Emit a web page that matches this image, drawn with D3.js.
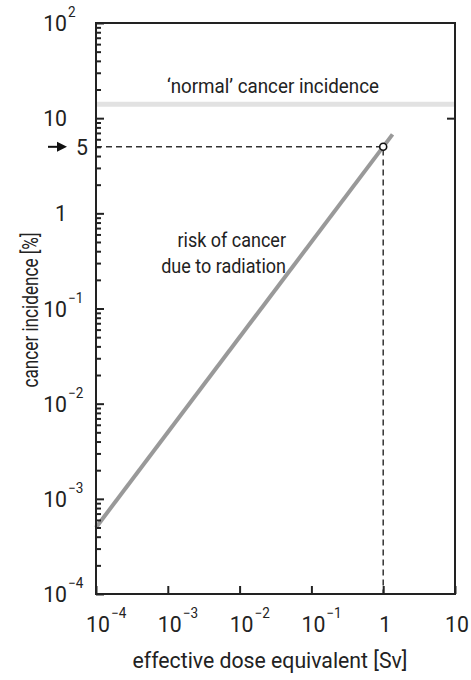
<!DOCTYPE html>
<html>
<head>
<meta charset="utf-8">
<script src="https://cdn.jsdelivr.net/npm/d3@7"></script>
<style>
  html, body { margin: 0; padding: 0; background: #fff; }
  svg text { font-family: Roboto, "Liberation Sans", sans-serif; font-weight: 400; fill: #222; }
</style>
</head>
<body>
<svg id="chart" width="471" height="680"></svg>
<script>
// ---- data ----
const xTickValues = [1e-4, 1e-3, 1e-2, 1e-1, 1, 10];
const xTickBases  = ["10", "10", "10", "10", "1", "10"];
const xTickExps   = ["−4", "−3", "−2", "−1", "", ""];
const yTickValues = [1e-4, 1e-3, 1e-2, 1e-1, 1, 10, 100];
const yTickBases  = ["10", "10", "10", "10", "1", "10", "10"];
const yTickExps   = ["−4", "−3", "−2", "−1", "", "", "2"];
const riskDose      = [1e-4, 1.35];
const riskIncidence = [5e-4, 6.75];
const normalIncidence = 14;
const markerDose = 1;
const markerIncidence = 5;
const markerLabel = "5";
const xTitle = "effective dose equivalent [Sv]";
const yTitle = "cancer incidence [%]";
const normalLabel = "‘normal’ cancer incidence";
const riskLabel = ["risk of cancer", "due to radiation"];

// ---- layout ----
const L = 96, R = 455, T = 23, B = 594;
const svg = d3.select("#chart");
const x = d3.scaleLog().domain([1e-4, 10]).range([L, R]);
const y = d3.scaleLog().domain([1e-4, 100]).range([B, T]);
const FS = 22, SUP = 14;

function measure(str, size) {
  const p = svg.append("text").attr("font-size", size).text(str);
  const w = p.node().getComputedTextLength();
  p.remove();
  return w;
}
// horizontal condensing factors (condensed face emulation)
const SX = Math.min(1, 275 / measure(xTitle, FS));

function addText(px, py, str, size, anchor, rot, sx) {
  const s = sx || SX;
  const g = svg.append("g").attr("transform", `translate(${px},${py})${rot ? ` rotate(${rot})` : ""} scale(${s},1)`);
  const t = g.append("text").attr("font-size", size).attr("text-anchor", anchor || "start").text(str);
  return t.node().getComputedTextLength() * s;
}

// minor ticks for y
const yMinor = [];
for (let e = -4; e < 2; e++) for (let m = 2; m <= 9; m++) yMinor.push(m * Math.pow(10, e));

// normal incidence band
svg.append("line")
  .attr("x1", x(1e-4)).attr("x2", x(10))
  .attr("y1", y(normalIncidence)).attr("y2", y(normalIncidence))
  .attr("stroke", "#e2e2e2").attr("stroke-width", 5);

// dashed guides
svg.append("path")
  .attr("d", `M${x(1e-4)},${y(markerIncidence)}H${x(markerDose)}V${y(1e-4)}`)
  .attr("fill", "none").attr("stroke", "#333").attr("stroke-width", 1.5)
  .attr("stroke-dasharray", "6,4");

// risk line
svg.append("path")
  .datum(riskDose.map((d, i) => [d, riskIncidence[i]]))
  .attr("d", d3.line().x(d => x(d[0])).y(d => y(d[1])))
  .attr("fill", "none").attr("stroke", "#999").attr("stroke-width", 4);

// marker
svg.append("circle")
  .attr("cx", x(markerDose)).attr("cy", y(markerIncidence)).attr("r", 3.5)
  .attr("fill", "#fff").attr("stroke", "#111").attr("stroke-width", 1.6);

// axes
const axG = svg.append("g").attr("class", "axes");
const styleAxis = g => { g.select(".domain").remove(); g.selectAll("line").attr("stroke", "#222").attr("stroke-width", 2); g.selectAll("text").remove(); };
axG.append("g").attr("transform", `translate(${L},0)`)
  .call(d3.axisLeft(y).tickValues(yMinor).tickSize(-5).tickFormat("")).call(styleAxis);
axG.append("g").attr("transform", `translate(${L},0)`)
  .call(d3.axisLeft(y).tickValues(yTickValues).tickSize(-8).tickFormat("")).call(styleAxis);
axG.append("g").attr("transform", `translate(0,${B})`)
  .call(d3.axisBottom(x).tickValues(xTickValues).tickSize(-8).tickFormat("")).call(styleAxis);
axG.append("g").attr("transform", `translate(${R},0)`)
  .call(d3.axisRight(y).tickValues([10]).tickSize(-8).tickFormat("")).call(styleAxis);

// frame
svg.append("rect").attr("x", L).attr("y", T).attr("width", R - L).attr("height", B - T)
  .attr("fill", "none").attr("stroke", "#222").attr("stroke-width", 2);

// y tick labels
yTickValues.forEach((v, i) => {
  addText(67, y(v) + 8, yTickBases[i], FS, "end");
  if (yTickExps[i]) addText(68, y(v) - 6, yTickExps[i], SUP, "start");
});

// x tick labels
xTickValues.forEach((v, i) => {
  const w = addText(x(v) + 2, 632, xTickBases[i], FS, "middle");
  if (xTickExps[i]) addText(x(v) + 2 + w / 2 + 1, 618, xTickExps[i], SUP, "start");
});

// marker label with arrow
const ay = y(markerIncidence);
svg.append("line").attr("x1", 48).attr("x2", 60).attr("y1", ay).attr("y2", ay)
  .attr("stroke", "#111").attr("stroke-width", 2);
svg.append("path").attr("d", `M57,${ay - 5}L67,${ay}L57,${ay + 5}Z`).attr("fill", "#111");
addText(76, ay + 8, markerLabel, FS, "start");

// annotations
addText(273, 93, normalLabel, 21, "middle", 0, 212 / measure(normalLabel, 21));
const SXA = 125 / measure(riskLabel[1], 21);
riskLabel.forEach((t, i) => addText(286, 247 + i * 26, t, 21, "end", 0, SXA));

// axis titles
addText(270, 668, xTitle, FS, "middle");
addText(38, 310, yTitle, FS, "middle", -90, 155 / measure(yTitle, FS));
</script>
</body>
</html>
